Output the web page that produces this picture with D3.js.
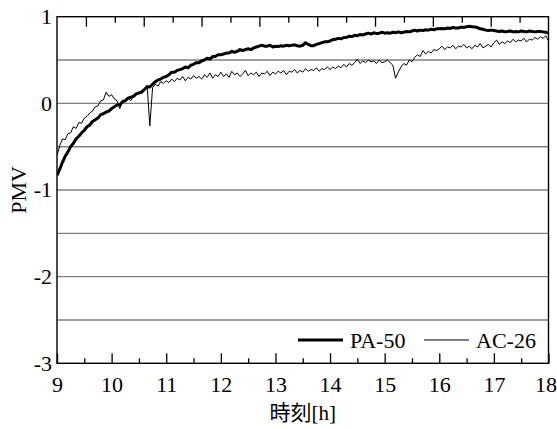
<!DOCTYPE html>
<html>
<head>
<meta charset="utf-8">
<script src="https://cdn.jsdelivr.net/npm/d3@7"></script>
<style>
  body { margin: 0; background: #fff; }
  svg text { font-family: "Liberation Serif", "Noto Sans CJK JP", serif; fill: #000; }
</style>
</head>
<body>
<div id="chart"></div>
<script>
// PMV readings every 3 minutes (0.05 h) from 9:00 to 18:00, one row per hour
const pa50 = [
  -0.83,-0.76,-0.68,-0.61,-0.56,-0.50,-0.46,-0.41,-0.38,-0.34,-0.31,-0.27,-0.25,-0.21,-0.19,-0.17,-0.13,-0.12,-0.10,-0.09,
  -0.06,-0.04,-0.02,-0.02,0.02,0.03,0.06,0.07,0.08,0.11,0.12,0.13,0.16,0.19,0.19,0.22,0.25,0.27,0.28,0.30,
  0.31,0.33,0.36,0.36,0.38,0.39,0.40,0.42,0.41,0.44,0.45,0.47,0.47,0.49,0.50,0.52,0.51,0.54,0.54,0.56,
  0.56,0.57,0.58,0.58,0.60,0.59,0.60,0.62,0.61,0.62,0.63,0.62,0.64,0.65,0.66,0.67,0.66,0.66,0.67,0.65,
  0.66,0.655,0.665,0.66,0.67,0.665,0.67,0.675,0.665,0.66,0.67,0.70,0.68,0.665,0.665,0.68,0.69,0.70,0.71,0.71,
  0.72,0.735,0.74,0.75,0.745,0.76,0.76,0.775,0.77,0.785,0.78,0.795,0.79,0.80,0.81,0.80,0.815,0.805,0.81,0.82,
  0.81,0.815,0.81,0.82,0.815,0.825,0.815,0.82,0.83,0.825,0.835,0.845,0.835,0.845,0.84,0.85,0.845,0.855,0.85,0.86,
  0.86,0.865,0.86,0.87,0.865,0.875,0.87,0.87,0.88,0.875,0.885,0.89,0.885,0.88,0.875,0.86,0.855,0.845,0.84,0.845,
  0.84,0.835,0.83,0.835,0.825,0.83,0.835,0.825,0.83,0.825,0.835,0.83,0.825,0.835,0.83,0.825,0.83,0.83,0.825,0.82,
  0.81
];
const ac26 = [
  -0.60,-0.49,-0.41,-0.42,-0.35,-0.34,-0.27,-0.29,-0.22,-0.23,-0.17,-0.15,-0.11,-0.09,-0.04,-0.03,0.03,0.04,0.13,0.08,
  0.10,0.05,0.03,-0.06,0.02,0.03,0.06,0.03,0.08,0.11,0.12,0.15,0.16,0.21,-0.26,0.18,0.22,0.20,0.25,0.23,
  0.26,0.24,0.28,0.25,0.29,0.27,0.31,0.26,0.30,0.28,0.32,0.29,0.31,0.28,0.33,0.30,0.35,0.29,0.33,0.31,
  0.36,0.31,0.34,0.30,0.37,0.33,0.35,0.31,0.34,0.38,0.32,0.35,0.33,0.36,0.31,0.35,0.34,0.37,0.32,0.36,
  0.34,0.37,0.35,0.38,0.33,0.37,0.36,0.39,0.35,0.38,0.36,0.40,0.37,0.39,0.38,0.41,0.37,0.40,0.39,0.42,
  0.39,0.42,0.40,0.43,0.41,0.45,0.42,0.46,0.44,0.47,0.51,0.46,0.49,0.47,0.50,0.48,0.49,0.46,0.50,0.47,
  0.48,0.50,0.47,0.44,0.29,0.36,0.42,0.46,0.44,0.50,0.48,0.53,0.56,0.54,0.61,0.57,0.60,0.58,0.62,0.61,
  0.63,0.66,0.62,0.65,0.64,0.67,0.63,0.66,0.65,0.68,0.64,0.66,0.63,0.67,0.65,0.69,0.64,0.66,0.68,0.65,
  0.70,0.73,0.68,0.71,0.69,0.72,0.70,0.74,0.71,0.73,0.72,0.75,0.71,0.74,0.73,0.76,0.74,0.77,0.75,0.78,
  0.72
];
const time = pa50.map((_, i) => 9 + i * 0.05);

const xTicks = [9, 10, 11, 12, 13, 14, 15, 16, 17, 18];
const xMinorTicks = [9.5, 10.5, 11.5, 12.5, 13.5, 14.5, 15.5, 16.5, 17.5];
const yTicks = [1, 0, -1, -2, -3];
const yGrid = [0.5, 0, -0.5, -1, -1.5, -2, -2.5];
const series = [
  { name: "PA-50", values: pa50, width: 3 },
  { name: "AC-26", values: ac26, width: 1 }
];

const W = 557, H = 429;
const margin = { top: 16.7, right: 8.5, bottom: 65.7, left: 57 };
const iw = W - margin.left - margin.right;
const ih = H - margin.top - margin.bottom;

const svg = d3.select("#chart").append("svg")
  .attr("width", W).attr("height", H);
const g = svg.append("g").attr("transform", `translate(${margin.left},${margin.top})`);

const x = d3.scaleLinear().domain([9, 18]).range([0, iw]);
const y = d3.scaleLinear().domain([-3, 1]).range([ih, 0]);
// secondary scale on the top edge (17 divisions)
const xTop = d3.scaleLinear().domain([0, 17]).range([0, iw]);

g.append("clipPath").attr("id", "clip")
  .append("rect").attr("width", iw).attr("height", ih);

// gridlines
g.append("g").selectAll("line").data(yGrid).join("line")
  .attr("x1", 0).attr("x2", iw)
  .attr("y1", d => y(d)).attr("y2", d => y(d))
  .attr("stroke", "#808080").attr("stroke-width", 1.4);

// series
const line = d3.line().x((d, i) => x(time[i])).y(d => y(d));
g.append("g").attr("clip-path", "url(#clip)").selectAll("path").data(series).join("path")
  .attr("d", d => line(d.values))
  .attr("fill", "none").attr("stroke", "#000")
  .attr("stroke-width", d => d.width)
  .attr("stroke-linejoin", "round");

// frame
g.append("rect").attr("width", iw).attr("height", ih)
  .attr("fill", "none").attr("stroke", "#000").attr("stroke-width", 1.4);

// bottom axis
const bottomAxis = g.append("g").attr("transform", `translate(0,${ih})`)
  .call(d3.axisBottom(x).tickValues(xTicks).tickSize(-10).tickPadding(0).tickFormat(d3.format("d")));
bottomAxis.select(".domain").remove();
bottomAxis.selectAll("line").attr("stroke", "#000").attr("stroke-width", 1.3);
bottomAxis.selectAll("text").attr("dy", null).attr("y", 29).attr("font-size", 22)
  .attr("dx", d => d === 18 ? -3 : null)
  .style("font-family", "'Liberation Serif', serif");

const bottomMinor = g.append("g").attr("transform", `translate(0,${ih})`)
  .call(d3.axisBottom(x).tickValues(xMinorTicks).tickSize(-5).tickFormat(""));
bottomMinor.select(".domain").remove();
bottomMinor.selectAll("line").attr("stroke", "#000").attr("stroke-width", 1.3);

// top axis ticks
const topTicks = d3.range(1, 17);
const topAxis = g.append("g")
  .call(d3.axisTop(xTop).tickValues(topTicks).tickSize(0).tickFormat(""));
topAxis.select(".domain").remove();
topAxis.selectAll(".tick line")
  .attr("y2", d => d % 2 === 1 ? 10 : 6)
  .attr("stroke", "#000").attr("stroke-width", 1.3);

// y labels
g.append("g").selectAll("text").data(yTicks).join("text")
  .attr("x", -5).attr("y", d => y(d) + 7.5)
  .attr("text-anchor", "end").attr("font-size", 22)
  .text(d => d);

// axis titles
g.append("text")
  .attr("x", iw / 2).attr("y", ih + 57)
  .attr("text-anchor", "middle").attr("font-size", 21)
  .text("時刻[h]");
g.append("text")
  .attr("transform", `translate(${-margin.left + 26},${ih / 2}) rotate(-90)`)
  .attr("text-anchor", "middle").attr("font-size", 22)
  .text("PMV");

// legend
const legendX = [241, 367];
const legend = g.append("g").attr("transform", `translate(0,${y(-2.5) + 20})`);
series.forEach((s, i) => {
  const lg = legend.append("g").attr("transform", `translate(${legendX[i]},0)`);
  lg.append("line").attr("x1", 0).attr("x2", 45).attr("stroke", "#000").attr("stroke-width", s.width);
  lg.append("text").attr("x", 52).attr("y", 8).attr("font-size", 22).text(s.name);
});
</script>
</body>
</html>
